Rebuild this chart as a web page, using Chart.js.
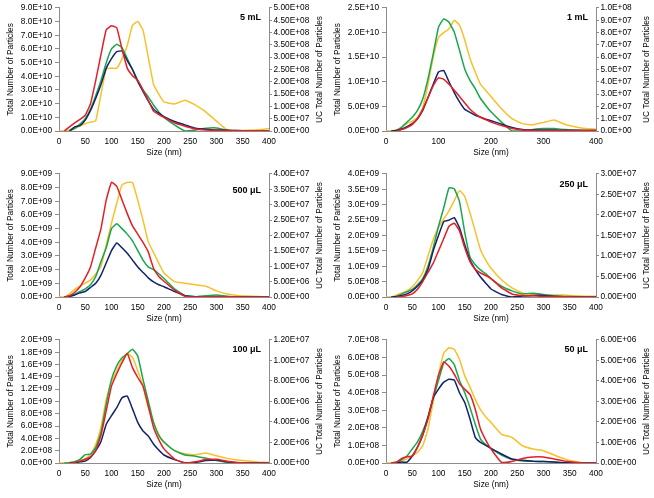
<!DOCTYPE html>
<html>
<head>
<meta charset="utf-8">
<script src="https://cdn.jsdelivr.net/npm/chart.js@4.4.1/dist/chart.umd.min.js"></script>
<style>
  body { margin: 0; background: #fff; }
  #wrap { position: relative; width: 654px; height: 498px; }
  .panel { position: absolute; width: 327px; height: 166px; }
</style>
</head>
<body>
<div id="wrap">
  <div class="panel" style="left:0;top:0"><canvas id="c0" width="327" height="166"></canvas></div>
  <div class="panel" style="left:327px;top:0"><canvas id="c1" width="327" height="166"></canvas></div>
  <div class="panel" style="left:0;top:166px"><canvas id="c2" width="327" height="166"></canvas></div>
  <div class="panel" style="left:327px;top:166px"><canvas id="c3" width="327" height="166"></canvas></div>
  <div class="panel" style="left:0;top:332px"><canvas id="c4" width="327" height="166"></canvas></div>
  <div class="panel" style="left:327px;top:332px"><canvas id="c5" width="327" height="166"></canvas></div>
</div>
<script>
// ----------------------
// Data (size bins in nm)
// ----------------------
const sizes = [0, 10, 20, 30, 40, 50, 60, 70, 80, 90, 100, 110, 120, 130, 140, 150, 160, 170, 180, 190, 200,
  220, 240, 260, 280, 300, 320, 340, 360, 380, 400];

// 5 mL  (left x1e10, UC x1e8)
const red5mL = [null, 0, 0.3, 0.6, 0.85, 1.15, 2.0, 3.7, 5.6, 7.4, 7.7, 7.55, 6.0, 4.6, 4.05, 3.7, 3.0, 2.25, 1.45, 1.2, 1.0, 0.6, 0.35, 0.15, 0.08, 0.05, 0.03, 0.02, 0.01, 0.01, 0];
const navy5mL = [null, null, 0, 0.3, 0.4, 0.8, 1.5, 2.4, 3.4, 4.6, 5.3, 5.8, 5.85, 5.15, 4.5, 3.6, 2.9, 2.2, 1.6, 1.3, 1.05, 0.7, 0.45, 0.2, 0.12, 0.08, 0.05, 0.03, 0.01, 0, 0];
const green5mL = [null, null, 0, 0.2, 0.5, 0.9, 1.6, 2.6, 3.7, 5.0, 6.0, 6.35, 6.1, 5.3, 4.5, 3.7, 3.0, 2.5, 1.9, 1.4, 1.0, 0.45, 0, 0.08, 0.2, 0.22, 0.05, 0, 0, 0, 0];
const uc5mL = [0, 0, 0.05, 0.1, 0.2, 0.3, 0.36, 0.42, 1.5, 2.53, 2.55, 2.55, 2.93, 3.47, 4.3, 4.45, 4.1, 3.0, 1.9, 1.5, 1.18, 1.1, 1.25, 1.05, 0.77, 0.4, 0.05, 0.02, 0.03, 0.05, 0.1];

// 1 mL  (left x1e9, UC x1e7)
const red1mL = [null, null, 0, 0.3, 0.7, 1.3, 2.5, 4.4, 6.8, 9.2, 10.8, 10.5, 9.5, 8.3, 7.0, 5.7, 4.4, 3.5, 2.8, 2.3, 1.8, 1.1, 0.5, 0.2, 0.1, 0.1, 0.1, 0.1, 0.1, 0.1, 0.1];
const navy1mL = [null, 0, 0.1, 0.4, 0.9, 1.5, 2.5, 4.2, 6.8, 9.5, 12.0, 12.3, 10.0, 7.8, 5.9, 4.4, 3.8, 3.2, 2.8, 2.4, 2.1, 1.4, 0.7, 0.3, 0.2, 0.2, 0.2, 0.15, 0.1, 0.1, 0.1];
const green1mL = [null, 0, 0.1, 0.8, 1.8, 2.8, 4.2, 6.5, 10.6, 15.7, 21.1, 22.8, 22.1, 20.1, 16.4, 12.6, 10.3, 8.6, 6.6, 5.2, 3.9, 1.8, 0, 0, 0.3, 0.5, 0.5, 0.3, 0.2, 0.1, 0.1];
const uc1mL = [0, 0, 0.1, 0.3, 0.6, 0.8, 1.1, 1.9, 3.8, 6.0, 7.6, 8.0, 8.3, 9.0, 8.6, 7.4, 5.9, 4.8, 3.8, 3.3, 2.8, 1.8, 1.0, 0.6, 0.5, 0.7, 0.9, 0.55, 0.35, 0.2, 0.15];

// 500 uL  (left x1e9, UC x1e7)
const red500uL = [null, 0, 0.1, 0.35, 0.75, 1.4, 2.2, 3.6, 5.0, 7.1, 8.4, 8.1, 7.1, 6.1, 5.2, 4.6, 4.0, 3.3, 2.1, 1.5, 1.15, 0.5, 0.05, 0, 0.02, 0.03, 0.02, 0.01, 0, 0, 0];
const navy500uL = [null, 0, 0.05, 0.15, 0.3, 0.4, 0.7, 1.0, 1.6, 2.5, 3.4, 3.95, 3.6, 3.2, 2.7, 2.2, 1.8, 1.4, 1.1, 0.9, 0.75, 0.4, 0.1, 0.02, 0.02, 0.02, 0.01, 0, 0, 0, 0];
const green500uL = [null, 0, 0.05, 0.2, 0.4, 0.6, 0.9, 1.5, 2.6, 3.6, 5.0, 5.35, 5.0, 4.6, 4.1, 3.4, 2.7, 2.2, 2.0, 1.7, 1.35, 0.6, 0.1, 0.02, 0.1, 0.15, 0.05, 0, 0, 0, 0];
const uc500uL = [0, 0, 0.1, 0.25, 0.35, 0.45, 0.55, 0.75, 1.0, 1.7, 2.4, 3.05, 3.65, 3.72, 3.72, 3.15, 2.5, 1.8, 1.45, 1.1, 0.78, 0.5, 0.45, 0.4, 0.35, 0.2, 0.1, 0.05, 0.03, 0.02, 0];

// 250 uL  (left x1e9, UC x1e7)
const red250uL = [null, null, 0, 0.02, 0.05, 0.1, 0.25, 0.5, 0.8, 1.1, 1.5, 1.9, 2.3, 2.4, 2.15, 1.6, 1.15, 0.9, 0.78, 0.7, 0.6, 0.3, 0.1, 0.05, 0.04, 0.02, 0.02, 0.01, 0, 0, 0];
const navy250uL = [null, 0, 0.02, 0.05, 0.1, 0.2, 0.35, 0.55, 0.9, 1.5, 2.0, 2.45, 2.5, 2.58, 2.25, 1.7, 1.2, 0.9, 0.65, 0.45, 0.26, 0.08, 0, 0.03, 0.05, 0.05, 0.02, 0.01, 0, 0, 0];
const green250uL = [null, 0, 0.02, 0.1, 0.17, 0.25, 0.4, 0.6, 1.0, 1.6, 2.3, 2.9, 3.55, 3.52, 3.1, 2.1, 1.3, 1.05, 0.88, 0.75, 0.6, 0.35, 0.2, 0.1, 0.12, 0.08, 0.04, 0.02, 0.01, 0, 0];
const uc250uL = [0, 0, 0.05, 0.1, 0.15, 0.25, 0.4, 0.6, 1.0, 1.4, 1.7, 1.9, 2.1, 2.35, 2.6, 2.45, 2.05, 1.6, 1.15, 0.9, 0.7, 0.42, 0.22, 0.1, 0.06, 0.05, 0.05, 0.05, 0.03, 0.02, 0.02];

// 100 uL  (left x1e8, UC x1e6)
const red100uL = [null, null, 0, 0.1, 0.3, 0.6, 1.0, 2.0, 4.5, 8.5, 12.5, 14.5, 16.3, 17.8, 15.5, 13.9, 12.5, 9.3, 5.8, 3.8, 2.3, 0.65, 0, 0.2, 0.55, 0.6, 0.3, 0.1, 0.02, 0, 0];
const navy100uL = [null, null, 0, 0.05, 0.2, 0.3, 0.9, 2.0, 3.5, 6.3, 7.7, 9.0, 10.6, 10.9, 8.8, 6.6, 5.2, 4.4, 3.1, 2.1, 1.3, 0.55, 0.05, 0.1, 0.4, 0.5, 0.2, 0.05, 0, 0, 0];
const green100uL = [null, 0, 0.05, 0.2, 0.6, 1.35, 1.45, 2.5, 5.0, 9.6, 13.6, 15.8, 17.1, 17.8, 18.5, 17.4, 13.6, 10.1, 6.6, 4.5, 3.4, 2.0, 1.3, 1.1, 0.76, 0.4, 0.1, 0.05, 0.02, 0, 0];
const uc100uL = [0, 0, 0.05, 0.15, 0.3, 0.4, 0.8, 1.8, 3.5, 6.2, 7.9, 9.0, 10.0, 10.7, 10.3, 9.0, 7.5, 5.4, 4.0, 2.8, 2.0, 1.2, 0.9, 0.8, 0.97, 0.7, 0.45, 0.3, 0.2, 0.1, 0.05];

// 50 uL  (left x1e8, UC x1e6)
const red50uL = [null, 0, 0.05, 0.26, 0.36, 0.38, 0.9, 1.6, 2.5, 3.8, 5.0, 5.75, 5.5, 5.05, 4.5, 4.2, 3.9, 3.06, 1.93, 1.3, 0.8, 0.04, 0.08, 0.26, 0.34, 0.34, 0.23, 0.12, 0.04, 0, 0];
const navy50uL = [null, null, 0, 0.05, 0.05, 0.4, 0.9, 1.6, 2.6, 3.7, 4.2, 4.6, 4.76, 4.72, 4.0, 3.44, 2.5, 1.46, 1.17, 1.0, 0.83, 0.51, 0.23, 0.15, 0.1, 0.08, 0.05, 0.02, 0.01, 0, 0];
const green50uL = [null, 0, 0.05, 0.2, 0.4, 0.8, 1.2, 1.8, 2.6, 3.7, 4.7, 5.7, 5.95, 5.6, 4.7, 4.0, 3.16, 2.2, 1.36, 1.05, 0.83, 0.45, 0.2, 0.12, 0.1, 0.08, 0.05, 0.02, 0, 0, 0];
const uc50uL = [0, 0, 0.05, 0.1, 0.2, 0.36, 0.52, 0.84, 1.65, 3.0, 4.3, 5.35, 5.62, 5.55, 5.05, 4.25, 3.7, 3.1, 2.6, 2.25, 1.98, 1.4, 1.25, 0.84, 0.68, 0.6, 0.39, 0.2, 0.07, 0, 0];

// ----------------------
// Panel settings
// ----------------------
const panelLabels = ["5 mL", "1 mL", "500 \u03BCL", "250 \u03BCL", "100 \u03BCL", "50 \u03BCL"];
const leftUnit = [1e10, 1e9, 1e9, 1e9, 1e8, 1e8];
const rightUnit = [1e8, 1e7, 1e7, 1e7, 1e6, 1e6];
const leftMax = [9e10, 2.5e10, 9e9, 4e9, 2e9, 7e8];
const leftStep = [1e10, 5e9, 1e9, 5e8, 2e8, 1e8];
const rightMax = [5e8, 1e8, 4e7, 3e7, 1.2e7, 6e6];
const rightStep = [5e7, 1e7, 5e6, 5e6, 2e6, 1e6];
const rightDigits = [2, 1, 2, 2, 2, 2];
const xStep = [50, 100, 50, 50, 50, 50];

const redSeries = [red5mL, red1mL, red500uL, red250uL, red100uL, red50uL];
const navySeries = [navy5mL, navy1mL, navy500uL, navy250uL, navy100uL, navy50uL];
const greenSeries = [green5mL, green1mL, green500uL, green250uL, green100uL, green50uL];
const ucSeries = [uc5mL, uc1mL, uc500uL, uc250uL, uc100uL, uc50uL];

// label baseline below top of plot (px)
const labelOffset = [12, 12, 19, 13, 12, 12];

const FONT = '"Liberation Sans", Arial, sans-serif';
const axisGrey = "#8c8c8c";

function sci(v, d) {
  if (Math.abs(v) < 1e-30) v = 0;
  return v.toExponential(d).toUpperCase().replace(/E([+-])(\d)$/, "E$10$2");
}

function points(vals, unit) {
  return sizes.map((x, i) => ({ x: x, y: vals[i] === null ? null : vals[i] * unit }));
}

// panel label + right axis title (reads bottom-to-top like Excel)
const panelText = {
  id: "panelText",
  afterDraw(chart, args, opts) {
    const { ctx, chartArea } = chart;
    ctx.save();
    ctx.fillStyle = "#000";
    ctx.font = "bold 9px " + FONT;
    ctx.textAlign = "right";
    ctx.textBaseline = "alphabetic";
    ctx.fillText(opts.label, chartArea.right - 8, chartArea.top + opts.offset);
    ctx.font = "8.3px " + FONT;
    ctx.textAlign = "center";
    ctx.textBaseline = "middle";
    ctx.translate(chart.width - 7, (chartArea.top + chartArea.bottom) / 2);
    ctx.rotate(-Math.PI / 2);
    ctx.fillText("UC Total Number of Particles", 0, 0);
    ctx.restore();
  }
};

function lineSet(data, color, axis) {
  return {
    data: data,
    borderColor: color,
    borderWidth: 1.5,
    pointRadius: 0,
    tension: 0.12,
    yAxisID: axis,
    fill: false
  };
}

function makePanel(i) {
  new Chart(document.getElementById("c" + i), {
    type: "line",
    data: {
      datasets: [
        lineSet(points(redSeries[i], leftUnit[i]), "#e41f26", "y"),
        lineSet(points(navySeries[i], leftUnit[i]), "#13236b", "y"),
        lineSet(points(greenSeries[i], leftUnit[i]), "#1aa64f", "y"),
        lineSet(points(ucSeries[i], rightUnit[i]), "#f8c02a", "y1")
      ]
    },
    plugins: [panelText],
    options: {
      responsive: false,
      animation: false,
      layout: { padding: { top: 7, left: 0, right: 0, bottom: 0 } },
      plugins: {
        legend: { display: false },
        tooltip: { enabled: false },
        panelText: { label: panelLabels[i], offset: labelOffset[i] }
      },
      scales: {
        x: {
          type: "linear",
          min: 0,
          max: 400,
          ticks: { stepSize: xStep[i], color: "#000", font: { family: FONT, size: 8.3 }, padding: 6, autoSkip: false, maxRotation: 0 },
          grid: { display: false, drawTicks: false },
          border: { display: true, color: axisGrey, width: 1 },
          title: { display: true, text: "Size (nm)", color: "#000", font: { family: FONT, size: 8.3 }, padding: { top: 0, bottom: 8 } },
          afterFit(s) { s.height = 35; }
        },
        y: {
          position: "left",
          min: 0,
          max: leftMax[i],
          ticks: {
            stepSize: leftStep[i], color: "#000", font: { family: FONT, size: 8.3 }, padding: 3, autoSkip: false,
            callback: v => sci(v, 1)
          },
          grid: { drawOnChartArea: false, drawTicks: true, tickLength: 4, color: axisGrey },
          border: { display: true, color: axisGrey, width: 1 },
          title: { display: true, text: "Total Number of Particles", color: "#000", font: { family: FONT, size: 8.3 }, padding: { top: 6, bottom: 0 } },
          afterFit(s) { s.width = 59; }
        },
        y1: {
          position: "right",
          min: 0,
          max: rightMax[i],
          ticks: {
            stepSize: rightStep[i], color: "#000", font: { family: FONT, size: 8.3 }, padding: 1.5, autoSkip: false,
            callback: v => sci(v, rightDigits[i])
          },
          grid: { drawOnChartArea: false, drawTicks: true, tickLength: 3, color: axisGrey },
          border: { display: true, color: axisGrey, width: 1 },
          afterFit(s) { s.width = 58; }
        }
      }
    }
  });
}

for (let i = 0; i < 6; i++) makePanel(i);
</script>
</body>
</html>
